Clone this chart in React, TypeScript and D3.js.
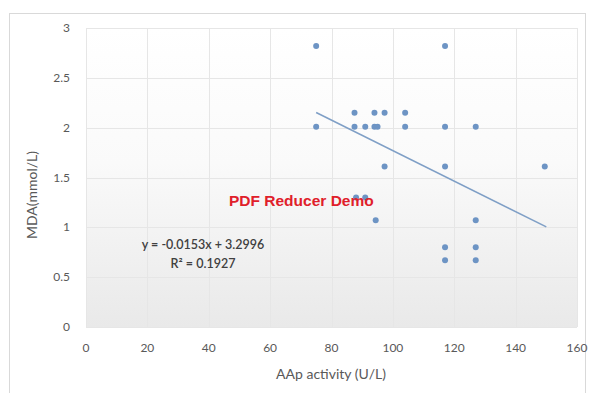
import { useEffect, useRef } from "react"
import * as d3 from "d3"

// AAp activity (U/L) vs MDA (mmol/L)
const aapValues = [75, 75, 117, 87.5, 94, 97.3, 104, 87.5, 91, 94, 95, 104, 117, 127, 97.3, 117, 149.5, 88, 91, 94.4, 127, 117, 127, 117, 127]
const mdaValues = [2.82, 2.01, 2.82, 2.15, 2.15, 2.15, 2.15, 2.01, 2.01, 2.01, 2.01, 2.01, 2.01, 2.01, 1.61, 1.61, 1.61, 1.3, 1.3, 1.07, 1.07, 0.8, 0.8, 0.67, 0.67]
const xTicks = [0, 20, 40, 60, 80, 100, 120, 140, 160]
const yTicks = [0, 0.5, 1, 1.5, 2, 2.5, 3]
const slope = -0.0153
const intercept = 3.2996
const trendRange = [75, 150]
const equationLines = ["y = -0.0153x + 3.2996", "R² = 0.1927"]

const W = 590
const H = 393
const margin = { top: 28, right: 13, bottom: 66, left: 86 }

export default function App() {
  const svgRef = useRef<SVGSVGElement>(null)

  useEffect(() => {
    if (!svgRef.current) return
    const svg = d3.select(svgRef.current)
    svg.selectAll("*").remove()

    const x = d3.scaleLinear().domain([0, 160]).range([margin.left, W - margin.right])
    const y = d3.scaleLinear().domain([0, 3]).range([H - margin.bottom, margin.top])
    const font = "Lato, 'Liberation Sans', sans-serif"

    // Background gradient for plot area
    const defs = svg.append("defs")
    const grad = defs.append("linearGradient")
      .attr("id", "plotBg").attr("x1", 0).attr("y1", 0).attr("x2", 0).attr("y2", 1)
    grad.append("stop").attr("offset", "0%").attr("stop-color", "#ffffff")
    grad.append("stop").attr("offset", "45%").attr("stop-color", "#fafafa")
    grad.append("stop").attr("offset", "100%").attr("stop-color", "#e9e9e9")

    // Chart frame
    svg.append("rect")
      .attr("x", 9.5).attr("y", 13.5).attr("width", W - 14).attr("height", H - 10)
      .attr("fill", "#fff").attr("stroke", "#d9d9d9")

    svg.append("rect")
      .attr("x", x(0)).attr("y", y(3))
      .attr("width", x(160) - x(0)).attr("height", y(0) - y(3))
      .attr("fill", "url(#plotBg)")

    // Gridlines
    svg.append("g").selectAll("line").data(yTicks).join("line")
      .attr("x1", x(0)).attr("x2", x(160))
      .attr("y1", d => Math.round(y(d)) + 0.5).attr("y2", d => Math.round(y(d)) + 0.5)
      .attr("stroke", "#e6e6e6")
    svg.append("g").selectAll("line").data(xTicks).join("line")
      .attr("y1", y(0)).attr("y2", y(3))
      .attr("x1", d => Math.round(x(d)) + 0.5).attr("x2", d => Math.round(x(d)) + 0.5)
      .attr("stroke", "#e6e6e6")

    // Tick labels
    svg.append("g").selectAll("text").data(xTicks).join("text")
      .attr("x", d => x(d)).attr("y", y(0) + 25)
      .attr("text-anchor", "middle")
      .attr("font-family", font).attr("font-size", 12).attr("fill", "#595959")
      .text(d => d)
    svg.append("g").selectAll("text").data(yTicks).join("text")
      .attr("x", 70).attr("y", d => y(d) + 4)
      .attr("text-anchor", "end")
      .attr("font-family", font).attr("font-size", 12).attr("fill", "#595959")
      .text(d => d)

    // Axis titles
    svg.append("text")
      .attr("x", 331).attr("y", 379)
      .attr("text-anchor", "middle")
      .attr("font-family", font).attr("font-size", 14).attr("fill", "#595959")
      .text("AAp activity (U/L)")
    svg.append("text")
      .attr("transform", "translate(37,195) rotate(-90)")
      .attr("text-anchor", "middle")
      .attr("font-family", font).attr("font-size", 14).attr("fill", "#595959")
      .text("MDA(mmol/L)")

    // Trend line
    svg.append("line")
      .attr("x1", x(trendRange[0])).attr("y1", y(slope * trendRange[0] + intercept))
      .attr("x2", x(trendRange[1])).attr("y2", y(slope * trendRange[1] + intercept))
      .attr("stroke", "#7f9fc6").attr("stroke-width", 1.5)

    // Points
    svg.append("g").selectAll("circle").data(aapValues).join("circle")
      .attr("cx", d => x(d)).attr("cy", (_, i) => y(mdaValues[i]))
      .attr("r", 3)
      .attr("fill", "#6d94c4")

    // Equation label
    svg.append("g").selectAll("text").data(equationLines).join("text")
      .attr("x", 203).attr("y", (_, i) => 249 + i * 19)
      .attr("text-anchor", "middle")
      .attr("font-family", font).attr("font-size", 12.5).attr("font-weight", 600).attr("fill", "#404040")
      .text(d => d)

    // Watermark
    svg.append("text")
      .attr("x", 229).attr("y", 206)
      .attr("font-family", "'Liberation Sans', Arial, sans-serif").attr("font-size", 15.5)
      .attr("font-weight", "bold")
      .attr("fill", "#e0202a")
      .text("PDF Reducer Demo")
  }, [])

  return (
    <svg ref={svgRef} width={W} height={H}
      style={{ position: "absolute", left: 0, top: 0, background: "#fff" }} />
  )
}
